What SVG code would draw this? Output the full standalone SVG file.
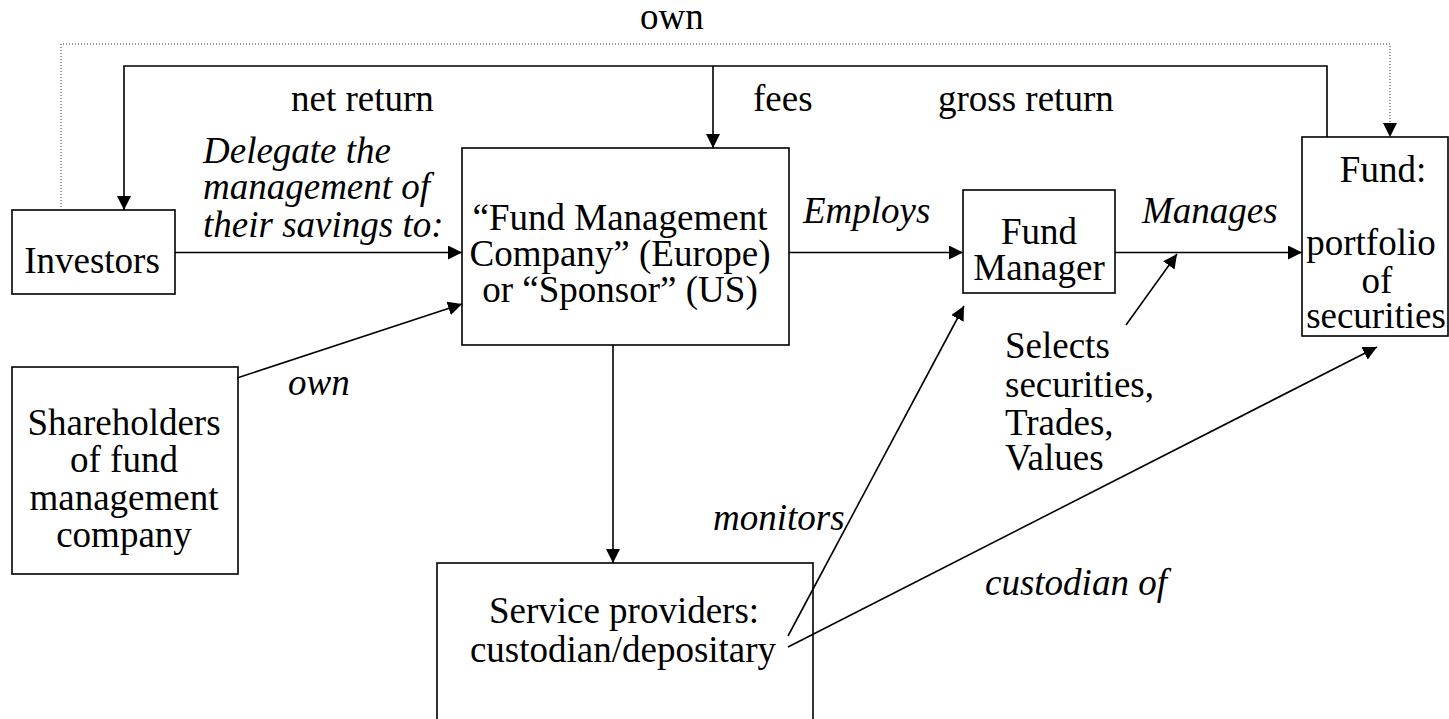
<svg xmlns="http://www.w3.org/2000/svg" width="1449" height="719" viewBox="0 0 1449 719">
<style>
text{font-family:'Liberation Serif','Times New Roman',serif;font-size:37px;fill:#000}
.it{font-style:italic}
.mid{text-anchor:middle}
.box{fill:#fff;stroke:#000;stroke-width:1.6}
.ln{fill:none;stroke:#000;stroke-width:1.6}
.dot{fill:none;stroke:#333;stroke-width:1;stroke-dasharray:1 2}
</style>
<defs>
<marker id="ah" markerUnits="userSpaceOnUse" markerWidth="16" markerHeight="16" refX="14" refY="7" orient="auto">
<path d="M0,0 L14,7 L0,14 z" fill="#000"/>
</marker>
</defs>
<rect width="1449" height="719" fill="#fff"/>
<g id="investors">
<rect class="box" x="12" y="210" width="163" height="84"/>
<text class="mid" x="92" y="273">Investors</text>
</g>
<g id="fmc">
<rect class="box" x="462" y="148" width="327" height="197"/>
<text class="mid" x="620" y="230">“Fund Management</text>
<text class="mid" x="620" y="266">Company” (Europe)</text>
<text class="mid" x="620" y="302">or “Sponsor” (US)</text>
</g>
<g id="fund-manager">
<rect class="box" x="963" y="190" width="152" height="103"/>
<text class="mid" x="1039" y="244">Fund</text>
<text class="mid" x="1039" y="280">Manager</text>
</g>
<g id="fund">
<rect class="box" x="1302" y="137" width="146" height="199"/>
<text class="mid" x="1383" y="182">Fund:</text>
<text class="mid" x="1371" y="255">portfolio</text>
<text class="mid" x="1377" y="293">of</text>
<text class="mid" x="1376" y="328">securities</text>
</g>
<g id="shareholders">
<rect class="box" x="12" y="367" width="226" height="207"/>
<text class="mid" x="124" y="435">Shareholders</text>
<text class="mid" x="124" y="472">of fund</text>
<text class="mid" x="124" y="510">management</text>
<text class="mid" x="124" y="547">company</text>
</g>
<g id="service-providers">
<rect class="box" x="437" y="563" width="376" height="190"/>
<text class="mid" x="624" y="623">Service providers:</text>
<text class="mid" x="623" y="662">custodian/depositary</text>
</g>
<g id="connectors">
<path class="dot" d="M61,210 V44 H1390 V137" marker-end="url(#ah)"/>
<path class="ln" d="M1327,137 V66 H124 V210" marker-end="url(#ah)"/>
<path class="ln" d="M713,66 V148" marker-end="url(#ah)"/>
<path class="ln" d="M175,252.5 H462" marker-end="url(#ah)"/>
<path class="ln" d="M789,252.5 H963" marker-end="url(#ah)"/>
<path class="ln" d="M1115,252.5 H1302" marker-end="url(#ah)"/>
<path class="ln" d="M1126,325 L1177,254" marker-end="url(#ah)"/>
<path class="ln" d="M237,378 L462,304" marker-end="url(#ah)"/>
<path class="ln" d="M613,345 V563" marker-end="url(#ah)"/>
<path class="ln" d="M788,636 L964,306" marker-end="url(#ah)"/>
<path class="ln" d="M788,647 L1377,347" marker-end="url(#ah)"/>
</g>
<g id="labels">
<text x="640" y="29">own</text>
<text x="291" y="111">net return</text>
<text x="753" y="111">fees</text>
<text x="938" y="111">gross return</text>
<text class="it" x="203" y="163">Delegate the</text>
<text class="it" x="203" y="199">management of</text>
<text class="it" x="203" y="237">their savings to:</text>
<text class="it" x="803" y="223">Employs</text>
<text class="it" x="1142" y="223">Manages</text>
<text class="it" x="288" y="395">own</text>
<text class="it" x="713" y="530">monitors</text>
<text class="it" x="985" y="595">custodian of</text>
<g id="selects">
<text x="1005" y="358">Selects</text>
<text x="1005" y="397">securities,</text>
<text x="1005" y="435">Trades,</text>
<text x="1005" y="470">Values</text>
</g>
</g>
</svg>
